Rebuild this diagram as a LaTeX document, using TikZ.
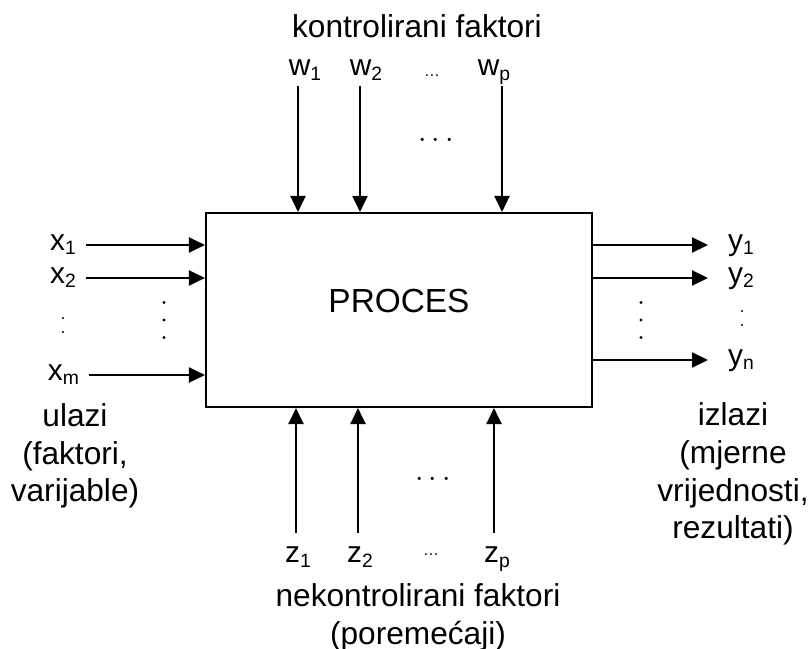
\documentclass[tikz,border=0pt]{standalone}
\usepackage{fontspec}
\setmainfont{Liberation Sans}
\usetikzlibrary{arrows.meta}

\newcommand{\idx}[1]{\raisebox{-0.3ex}{\fontsize{11}{11}\selectfont #1}}

\begin{document}
\begin{tikzpicture}[
    arr/.style={-{Triangle[length=3.2mm,width=3mm]}, line width=1.2pt},
    var/.style={font=\fontsize{17}{19}\selectfont, inner sep=1pt, text height=1.1ex, text depth=0pt},
    txt/.style={font=\fontsize{18}{21.5}\selectfont, align=center, inner sep=0pt},
    dots/.style={font=\fontsize{17}{19}\selectfont, inner sep=0pt}]
    \useasboundingbox (0,0) rectangle (16.18,12.98);
    % Process
    \node[draw, line width=1.2pt, minimum width=7.72cm, minimum height=3.88cm,
      font=\fontsize{19}{22}\selectfont, text depth=0.36cm] (proc) at (7.98,6.78) {PROCES};
    % Inputs
    \node[var, anchor=east] (x1) at (1.56,8.08) {x\idx{1}};
    \node[var, anchor=east] (x2) at (1.56,7.42) {x\idx{2}};
    \node[var, anchor=east] (xm) at (1.62,5.48) {x\idx{m}};
    \foreach \n in {x1,x2,xm}
      \draw[arr, shorten <=1.6mm] (\n.east) -- (\n.east -| proc.west);
    \coordinate (xv) at (1.26,6.48);
    \coordinate (xd) at (3.28,6.58);
    % Outputs
    \node[var, anchor=west] (y1) at (14.52,8.08) {y\idx{1}};
    \node[var, anchor=west] (y2) at (14.52,7.42) {y\idx{2}};
    \node[var, anchor=west] (yn) at (14.52,5.78) {y\idx{n}};
    \foreach \n in {y1,y2,yn}
      \draw[arr, shorten >=3.6mm] (\n.west -| proc.east) -- (\n.west);
    \coordinate (yv) at (14.84,6.62);
    \coordinate (yd) at (12.82,6.58);
    % Dots between the rows
    \foreach \c in {xd,yd}
      \foreach \dy in {-0.35,0,0.35}
        \fill ([yshift=\dy cm]\c) circle (0.9pt);
    \foreach \c in {xv,yv}
      \foreach \dy in {-0.14,0.14}
        \fill ([yshift=\dy cm]\c) circle (0.6pt);
    % Controlled factors
    \node[txt] (kf) at (8.34,12.46) {kontrolirani faktori};
    \node[var, anchor=south] (w1) at (6.1,11.42) {w\idx{1}};
    \node[var, anchor=south] (w2) at (7.32,11.42) {w\idx{2}};
    \node[dots, anchor=south] (wd) at (8.64,11.44) {\small\dots};
    \node[var, anchor=south] (wp) at (9.88,11.42) {w\idx{p}};
    \foreach \n/\s in {w1/-0.14,w2/-0.12,wp/0.16}
      \draw[arr, shorten <=1.6mm] ([xshift=\s cm]\n.south) -- ([xshift=\s cm]\n.south |- proc.north);
    \node[dots] (wh) at (8.72,10.16) {$\cdots$};
    % Uncontrolled factors
    \node[var, anchor=north] (z1) at (5.96,1.98) {z\idx{1}};
    \node[var, anchor=north] (z2) at (7.2,1.98) {z\idx{2}};
    \node[dots, anchor=north] (zd) at (8.62,1.92) {\small\dots};
    \node[var, anchor=north] (zp) at (9.94,1.98) {z\idx{p}};
    \foreach \n/\s in {z1/-0.04,z2/-0.04,zp/-0.06}
      \draw[arr, shorten <=3.4mm] ([xshift=\s cm]\n.north) -- ([xshift=\s cm]\n.north |- proc.south);
    \node[dots] (zh) at (8.66,3.38) {$\cdots$};
    \node[txt] (nf) at (8.36,0.64) {nekontrolirani faktori\\(poremećaji)};
    % Side texts
    \node[txt] (ul) at (1.5,3.86) {ulazi\\(faktori,\\varijable)};
    \node[txt] (iz) at (14.66,3.5) {izlazi\\(mjerne\\vrijednosti,\\rezultati)};
\end{tikzpicture}
\end{document}
